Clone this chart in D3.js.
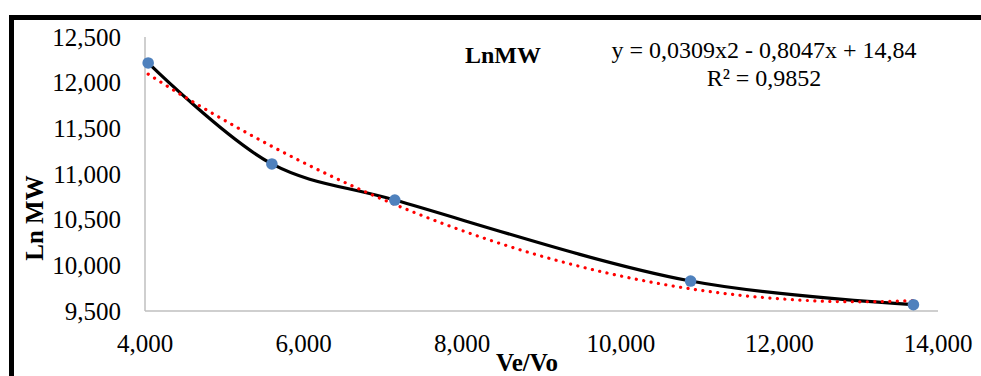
<!DOCTYPE html>
<html>
<head>
<meta charset="utf-8">
<script src="https://cdn.jsdelivr.net/npm/d3@7"></script>
<style>
  html, body { margin: 0; padding: 0; background: #fff; }
  svg { display: block; font-family: "Liberation Serif", "Times New Roman", serif; }
</style>
</head>
<body>
<svg id="chart" width="981" height="376"></svg>
<script>
// dados
const veVo = [4.04, 5.60, 7.15, 10.88, 13.69];
const lnMW = [12.216, 11.110, 10.715, 9.828, 9.569];
const xTicks = [4, 6, 8, 10, 12, 14];
const yTicks = [9.5, 10, 10.5, 11, 11.5, 12, 12.5];
// coeficientes da linha de tendência polinomial (a, b, c)
const coefTendencia = [0.0309, -0.8047, 14.84];
const textoEquacao = "y = 0,0309x2 - 0,8047x + 14,84";
const textoR2 = "R² = 0,9852";

const svg = d3.select("#chart");

// moldura preta (cortada à direita e embaixo)
svg.append("path")
  .attr("d", "M11.5,400 V17.5 H1000")
  .attr("fill", "none")
  .attr("stroke", "#000")
  .attr("stroke-width", 5);

const x = d3.scaleLinear().domain([4, 14]).range([145, 938]);
const y = d3.scaleLinear().domain([9.5, 12.5]).range([311, 37]);

// formato com vírgula decimal e 3 casas
const fmtNum = v => d3.format(".3f")(v).replace(".", ",");

// eixos (linhas cinza, sem marcas)
svg.append("line")
  .attr("x1", x(4)).attr("x2", x(4))
  .attr("y1", y(12.5)).attr("y2", y(9.5))
  .attr("stroke", "#bfbfbf").attr("stroke-width", 1.5);
svg.append("line")
  .attr("x1", x(4)).attr("x2", x(14))
  .attr("y1", y(9.5)).attr("y2", y(9.5))
  .attr("stroke", "#bfbfbf").attr("stroke-width", 1.5);

svg.append("g").selectAll("text")
  .data(yTicks)
  .join("text")
  .attr("x", 121)
  .attr("y", d => y(d))
  .attr("dy", "0.35em")
  .attr("text-anchor", "end")
  .style("font-size", "25px")
  .text(fmtNum);

svg.append("g").selectAll("text")
  .data(xTicks)
  .join("text")
  .attr("x", d => x(d))
  .attr("y", 343)
  .attr("dy", "0.35em")
  .attr("text-anchor", "middle")
  .style("font-size", "25px")
  .text(fmtNum);

// títulos dos eixos
svg.append("text")
  .attr("transform", "translate(34,218) rotate(-90)")
  .attr("dy", "0.35em")
  .attr("text-anchor", "middle")
  .style("font-size", "25px").style("font-weight", "bold")
  .text("Ln MW");

svg.append("text")
  .attr("x", 527).attr("y", 362)
  .attr("dy", "0.35em")
  .attr("text-anchor", "middle")
  .style("font-size", "25px").style("font-weight", "bold")
  .text("Ve/Vo");

// título da série
svg.append("text")
  .attr("x", 503).attr("y", 55)
  .attr("dy", "0.35em")
  .attr("text-anchor", "middle")
  .style("font-size", "24px").style("font-weight", "bold")
  .text("LnMW");

// equação da tendência
svg.append("text")
  .attr("x", 764).attr("y", 50)
  .attr("dy", "0.35em")
  .attr("text-anchor", "middle")
  .style("font-size", "24px")
  .text(textoEquacao);
svg.append("text")
  .attr("x", 764).attr("y", 78)
  .attr("dy", "0.35em")
  .attr("text-anchor", "middle")
  .style("font-size", "24px")
  .text(textoR2);

const pontos = veVo.map((v, i) => [v, lnMW[i]]);

// linha suavizada
const linha = d3.line()
  .x(d => x(d[0])).y(d => y(d[1]))
  .curve(d3.curveCatmullRom.alpha(0.5));

svg.append("path")
  .datum(pontos)
  .attr("d", linha)
  .attr("fill", "none")
  .attr("stroke", "#000")
  .attr("stroke-width", 3.2);

// linha de tendência polinomial (pontilhada)
const [a, b, c] = coefTendencia;
const xMin = d3.min(veVo), xMax = d3.max(veVo);
const amostras = d3.range(0, 201).map(i => {
  const xv = xMin + (xMax - xMin) * i / 200;
  return [xv, a * xv * xv + b * xv + c];
});
svg.append("path")
  .datum(amostras)
  .attr("d", d3.line().x(d => x(d[0])).y(d => y(d[1])))
  .attr("fill", "none")
  .attr("stroke", "#ff0000")
  .attr("stroke-width", 3.2)
  .attr("stroke-linecap", "round")
  .attr("stroke-dasharray", "0.1 7.4");

// marcadores
svg.append("g").selectAll("circle")
  .data(pontos)
  .join("circle")
  .attr("cx", d => x(d[0]))
  .attr("cy", d => y(d[1]))
  .attr("r", 5.8)
  .attr("fill", "#4f81bd");
</script>
</body>
</html>
